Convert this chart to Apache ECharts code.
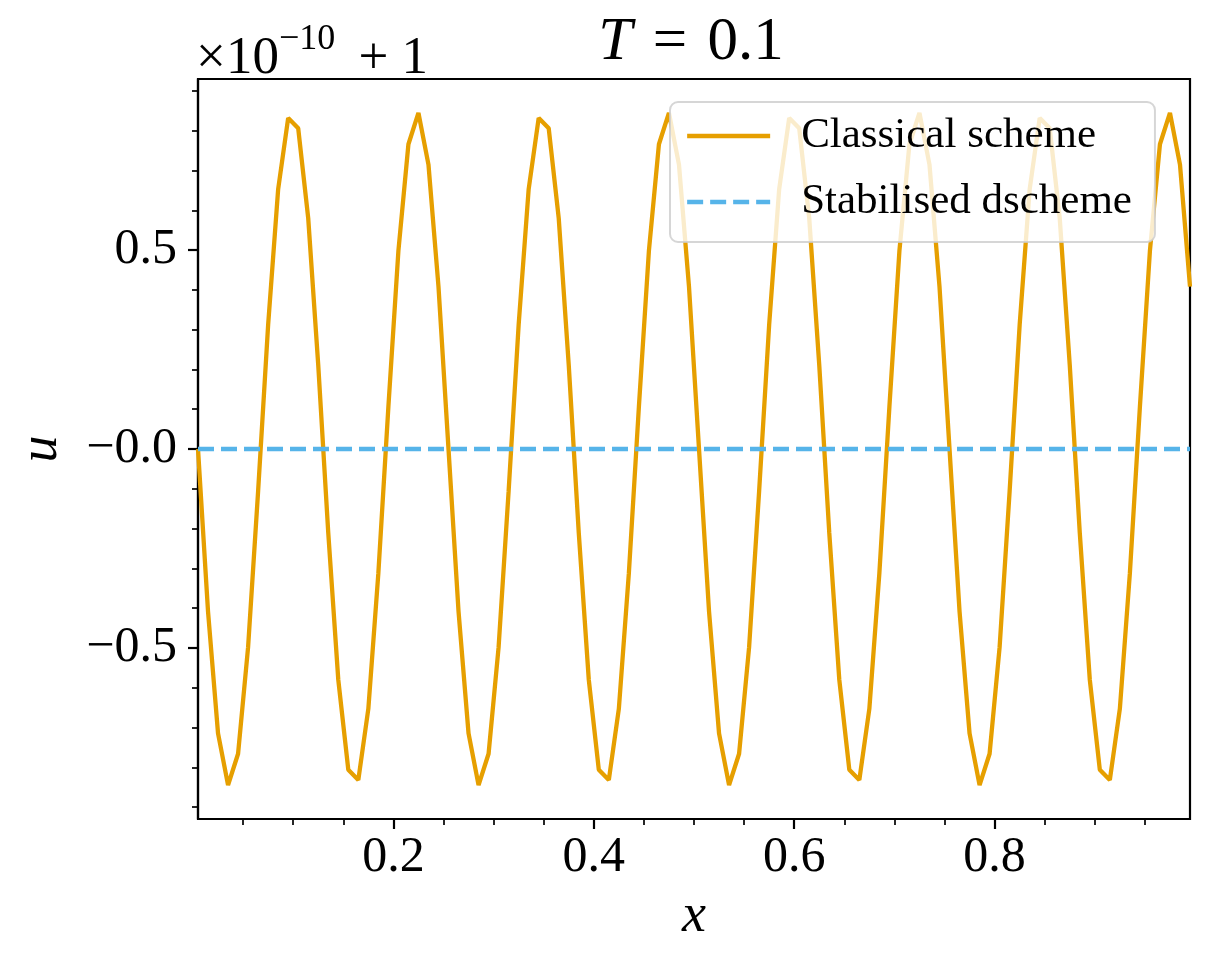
<!DOCTYPE html>
<html lang="en">
<head>
    <meta charset="UTF-8">
    <title>T = 0.1</title>
    <script src="https://cdn.jsdelivr.net/npm/echarts@6.0.0/dist/echarts.min.js"></script>
    <style>
        html, body { margin: 0; padding: 0; background: #fff; }
        #main { width: 1210px; height: 971px; }
    </style>
</head>
<body>
<div id="main"></div>

<script>
    // cell centres
    var xs = [
        0.005, 0.015, 0.025, 0.035, 0.045, 0.055, 0.065, 0.075, 0.085, 0.095,
        0.105, 0.115, 0.125, 0.135, 0.145, 0.155, 0.165, 0.175, 0.185, 0.195,
        0.205, 0.215, 0.225, 0.235, 0.245, 0.255, 0.265, 0.275, 0.285, 0.295,
        0.305, 0.315, 0.325, 0.335, 0.345, 0.355, 0.365, 0.375, 0.385, 0.395,
        0.405, 0.415, 0.425, 0.435, 0.445, 0.455, 0.465, 0.475, 0.485, 0.495,
        0.505, 0.515, 0.525, 0.535, 0.545, 0.555, 0.565, 0.575, 0.585, 0.595,
        0.605, 0.615, 0.625, 0.635, 0.645, 0.655, 0.665, 0.675, 0.685, 0.695,
        0.705, 0.715, 0.725, 0.735, 0.745, 0.755, 0.765, 0.775, 0.785, 0.795,
        0.805, 0.815, 0.825, 0.835, 0.845, 0.855, 0.865, 0.875, 0.885, 0.895,
        0.905, 0.915, 0.925, 0.935, 0.945, 0.955, 0.965, 0.975, 0.985, 0.995
    ];

    // (u - 1) / 1e-10
    var classical = [
        0, -0.408, -0.715, -0.845, -0.766, -0.498, -0.106, 0.312, 0.653, 0.832,
        0.806, 0.580, 0.211, -0.211, -0.580, -0.806, -0.832, -0.653, -0.312, 0.106,
        0.498, 0.766, 0.845, 0.715, 0.408,
        0, -0.408, -0.715, -0.845, -0.766, -0.498, -0.106, 0.312, 0.653, 0.832,
        0.806, 0.580, 0.211, -0.211, -0.580, -0.806, -0.832, -0.653, -0.312, 0.106,
        0.498, 0.766, 0.845, 0.715, 0.408,
        0, -0.408, -0.715, -0.845, -0.766, -0.498, -0.106, 0.312, 0.653, 0.832,
        0.806, 0.580, 0.211, -0.211, -0.580, -0.806, -0.832, -0.653, -0.312, 0.106,
        0.498, 0.766, 0.845, 0.715, 0.408,
        0, -0.408, -0.715, -0.845, -0.766, -0.498, -0.106, 0.312, 0.653, 0.832,
        0.806, 0.580, 0.211, -0.211, -0.580, -0.806, -0.832, -0.653, -0.312, 0.106,
        0.498, 0.766, 0.845, 0.715, 0.408
    ];

    var stabilised = [
        0, 0, 0, 0, 0, 0, 0, 0, 0, 0,
        0, 0, 0, 0, 0, 0, 0, 0, 0, 0,
        0, 0, 0, 0, 0, 0, 0, 0, 0, 0,
        0, 0, 0, 0, 0, 0, 0, 0, 0, 0,
        0, 0, 0, 0, 0, 0, 0, 0, 0, 0,
        0, 0, 0, 0, 0, 0, 0, 0, 0, 0,
        0, 0, 0, 0, 0, 0, 0, 0, 0, 0,
        0, 0, 0, 0, 0, 0, 0, 0, 0, 0,
        0, 0, 0, 0, 0, 0, 0, 0, 0, 0,
        0, 0, 0, 0, 0, 0, 0, 0, 0, 0
    ];

    var seriesNames = ['Classical scheme', 'Stabilised dscheme'];

    var xMajorTicks = [0.2, 0.4, 0.6, 0.8];
    var xTickLabels = ['0.2', '0.4', '0.6', '0.8'];
    var xMinorTicks = [0.05, 0.1, 0.15, 0.25, 0.3, 0.35, 0.45, 0.5, 0.55, 0.65, 0.7, 0.75, 0.85, 0.9, 0.95];
    var yMajorTicks = [-0.5, 0, 0.5];
    var yTickLabels = ['\u22120.5', '\u22120.0', '0.5'];
    var yMinorTicks = [-0.9, -0.8, -0.7, -0.6, -0.4, -0.3, -0.2, -0.1, 0.1, 0.2, 0.3, 0.4, 0.6, 0.7, 0.8, 0.9];

    var serif = "'Liberation Serif', 'DejaVu Serif', serif";
    var orange = '#E69F00';
    var blue = '#56B4E9';
    var blueDash = [16, 7];

    function pairs(xv, yv) {
        var out = [];
        for (var i = 0; i < xv.length; i++) {
            out.push([xv[i], yv[i]]);
        }
        return out;
    }

    function pick(ticks, labels) {
        return function (v) {
            for (var i = 0; i < ticks.length; i++) {
                if (Math.abs(ticks[i] - v) < 1e-9) return labels[i];
            }
            return '';
        };
    }

    var myChart = echarts.init(document.getElementById('main'));

    option = {
        animation: false,
        backgroundColor: '#fff',
        grid: {
            left: 198,
            right: 20,
            top: 79,
            bottom: 152,
            show: true,
            borderColor: '#000',
            borderWidth: 2.2,
            backgroundColor: 'transparent'
        },
        graphic: [
            {
                type: 'text',
                x: 691,
                y: 12,
                style: {
                    text: '{i|T}{n|\u2004=\u20040.1}',
                    align: 'center',
                    verticalAlign: 'top',
                    fill: '#000',
                    rich: {
                        i: {fontFamily: serif, fontSize: 61, fontStyle: 'italic', lineHeight: 61},
                        n: {fontFamily: serif, fontSize: 61, lineHeight: 61}
                    }
                }
            },
            {
                type: 'text',
                x: 196,
                y: 22,
                style: {
                    text: '{a|\u00d710}{s|\u221210}{a|\u2005+\u00a01}',
                    align: 'left',
                    verticalAlign: 'top',
                    fill: '#000',
                    rich: {
                        a: {fontFamily: serif, fontSize: 53, lineHeight: 64, verticalAlign: 'bottom'},
                        s: {fontFamily: serif, fontSize: 36, lineHeight: 27, verticalAlign: 'top', padding: [0, 10, 0, 0]}
                    }
                }
            }
        ],
        legend: {
            orient: 'vertical',
            left: 670,
            top: 102,
            z: 10,
            data: [
                {name: seriesNames[0], lineStyle: {color: orange, width: 4.3, type: 'solid'}},
                {name: seriesNames[1], lineStyle: {color: blue, width: 4.3, type: blueDash}}
            ],
            itemWidth: 83,
            itemHeight: 2,
            itemGap: 18,
            itemStyle: {opacity: 0},
            lineStyle: {width: 4.3},
            padding: [10, 23, 16, 15],
            backgroundColor: 'rgba(255,255,255,0.8)',
            borderColor: 'rgba(204,204,204,0.8)',
            borderWidth: 2,
            borderRadius: 8,
            textStyle: {
                fontFamily: serif,
                fontSize: 43,
                lineHeight: 48,
                color: '#000',
                padding: [0, 0, 0, 26]
            }
        },
        xAxis: [
            {
                type: 'value',
                min: 0.005,
                max: 0.995,
                position: 'bottom',
                name: 'x',
                nameLocation: 'middle',
                nameGap: 71,
                nameTextStyle: {fontFamily: serif, fontSize: 54, fontStyle: 'italic', color: '#000'},
                axisLine: {show: true, onZero: false, lineStyle: {color: '#000', width: 2.2}},
                axisTick: {show: true, customValues: xMajorTicks, length: 10, lineStyle: {color: '#000', width: 2.2}},
                axisLabel: {
                    customValues: xMajorTicks,
                    margin: 14,
                    fontFamily: serif,
                    fontSize: 50,
                    color: '#000',
                    formatter: pick(xMajorTicks, xTickLabels)
                },
                splitLine: {show: false}
            },
            {
                type: 'value',
                min: 0.005,
                max: 0.995,
                position: 'bottom',
                axisLine: {show: false, onZero: false},
                axisTick: {show: true, customValues: xMinorTicks, length: 6, lineStyle: {color: '#000', width: 1.7}},
                axisLabel: {show: false},
                splitLine: {show: false}
            }
        ],
        yAxis: [
            {
                type: 'value',
                min: -0.93,
                max: 0.93,
                position: 'left',
                name: 'u',
                nameLocation: 'middle',
                nameGap: 129,
                nameTextStyle: {fontFamily: serif, fontSize: 54, fontStyle: 'italic', color: '#000'},
                axisLine: {show: true, onZero: false, lineStyle: {color: '#000', width: 2.2}},
                axisTick: {show: true, customValues: yMajorTicks, length: 10, lineStyle: {color: '#000', width: 2.2}},
                axisLabel: {
                    customValues: yMajorTicks,
                    margin: 21,
                    fontFamily: serif,
                    fontSize: 50,
                    color: '#000',
                    formatter: pick(yMajorTicks, yTickLabels)
                },
                splitLine: {show: false}
            },
            {
                type: 'value',
                min: -0.93,
                max: 0.93,
                position: 'left',
                axisLine: {show: false, onZero: false},
                axisTick: {show: true, customValues: yMinorTicks, length: 6, lineStyle: {color: '#000', width: 1.7}},
                axisLabel: {show: false},
                splitLine: {show: false}
            }
        ],
        series: [
            {
                name: seriesNames[0],
                type: 'line',
                xAxisIndex: 0,
                yAxisIndex: 0,
                symbol: 'none',
                data: pairs(xs, classical),
                lineStyle: {color: orange, width: 4.3},
                itemStyle: {color: orange}
            },
            {
                name: seriesNames[1],
                type: 'line',
                xAxisIndex: 0,
                yAxisIndex: 0,
                symbol: 'none',
                data: pairs(xs, stabilised),
                lineStyle: {color: blue, width: 4.3, type: blueDash},
                itemStyle: {color: blue}
            }
        ]
    };

    myChart.setOption(option, true);
</script>
</body>
</html>
